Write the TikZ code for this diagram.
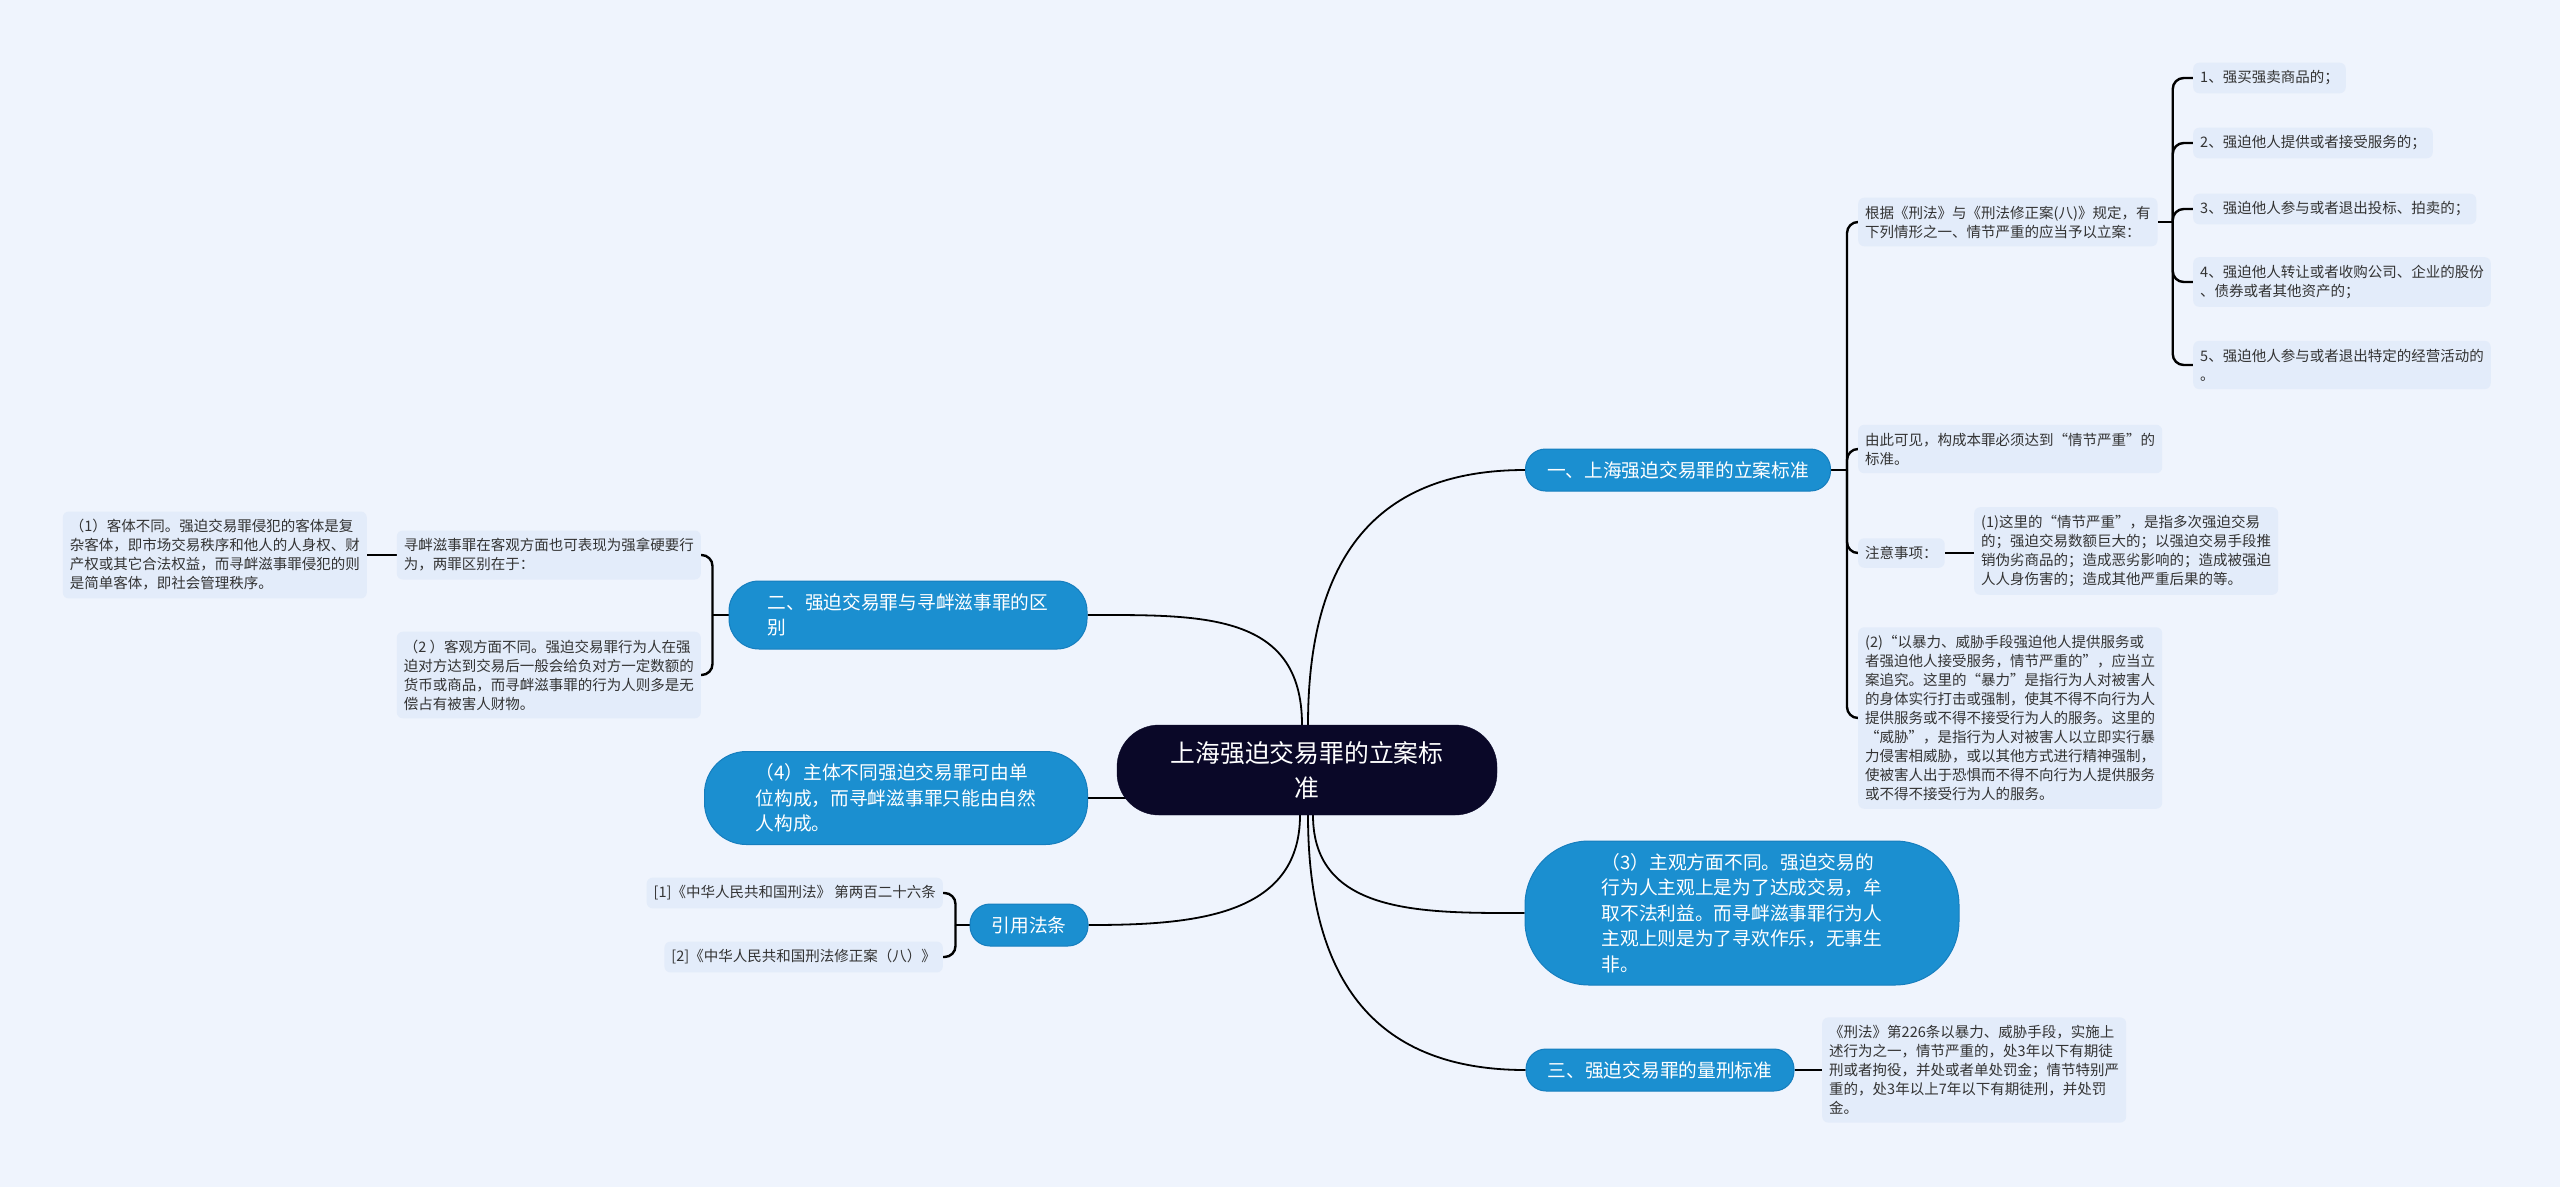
\documentclass[tikz,border=0pt]{standalone}
\usepackage{fontspec}
\setmainfont{Noto Sans CJK SC}
\pgfdeclarelayer{background}
\pgfsetlayers{background,main}
\definecolor{bgcol}{RGB}{239,244,253}
\definecolor{leafcol}{RGB}{227,236,250}
\definecolor{branchcol}{RGB}{27,143,208}
\definecolor{branchline}{RGB}{22,126,190}
\definecolor{rootcol}{RGB}{10,8,40}
\definecolor{leaftext}{RGB}{51,51,51}

\begin{document}
\begin{tikzpicture}[x=1pt,y=-1pt,
  root/.style={fill=rootcol,draw=rootcol,text=white,rounded corners=42pt,minimum width=380pt,minimum height=90pt,align=center,font=\fontsize{24.8}{35}\selectfont},
  branch/.style={fill=branchcol,draw=branchline,line width=1pt,text=white,rounded corners=20pt,minimum height=42pt,align=left,font=\fontsize{18.7}{25.5}\selectfont},
  leaf/.style={fill=leafcol,text=leaftext,rounded corners=6pt,inner xsep=7pt,inner ysep=8pt,align=left,anchor=west,font=\fontsize{14.5}{19}\selectfont},
  link/.style={line width=1.8pt},
  brace/.style={line width=2.4pt,rounded corners=11pt}]
  \useasboundingbox (0,0) rectangle (2560,1187);

  % centre and main topics
  \node[root] (root) at (1307,770) {上海强迫交易罪的立案标\\准};
  \node[branch,minimum width=305pt] (b1) at (1678,470) {一、上海强迫交易罪的立案标准};
  \node[branch,minimum width=358pt,minimum height=68pt,rounded corners=30pt] (b2) at (908,615) {二、强迫交易罪与寻衅滋事罪的区\\别};
  \node[branch,minimum width=383pt,minimum height=93pt,rounded corners=42pt] (b4) at (896,798) {（4）主体不同强迫交易罪可由单\\位构成，而寻衅滋事罪只能由自然\\人构成。};
  \node[branch,minimum width=434pt,minimum height=144pt,rounded corners=64pt] (b3) at (1742,913) {（3）主观方面不同。强迫交易的\\行为人主观上是为了达成交易，牟\\取不法利益。而寻衅滋事罪行为人\\主观上则是为了寻欢作乐，无事生\\非。};
  \node[branch,minimum width=268pt] (b5) at (1660,1070) {三、强迫交易罪的量刑标准};
  \node[branch,minimum width=118pt] (b6) at (1029,925) {引用法条};

  % topic one
  \node[leaf] (l1a) at (1858,222) {根据《刑法》与《刑法修正案(八)》规定，有\\下列情形之一、情节严重的应当予以立案：};
  \foreach \n/\y/\t in {1/78/{1、强买强卖商品的；},
                        2/143/{2、强迫他人提供或者接受服务的；},
                        3/209/{3、强迫他人参与或者退出投标、拍卖的；},
                        4/282/{4、强迫他人转让或者收购公司、企业的股份\\、债券或者其他资产的；},
                        5/365/{5、强迫他人参与或者退出特定的经营活动的\\。}}
    \node[leaf] (it\n) at (2193,\y) {\t};
  \node[leaf] (l1b) at (1858,449) {由此可见，构成本罪必须达到“情节严重”的\\标准。};
  \node[leaf] (l1c) at (1858,553) {注意事项：};
  \node[leaf] (l1e) at (1974,551) {(1)这里的“情节严重”，是指多次强迫交易\\的；强迫交易数额巨大的；以强迫交易手段推\\销伪劣商品的；造成恶劣影响的；造成被强迫\\人人身伤害的；造成其他严重后果的等。};
  \node[leaf] (l1d) at (1858,718) {(2)“以暴力、威胁手段强迫他人提供服务或\\者强迫他人接受服务，情节严重的”，应当立\\案追究。这里的“暴力”是指行为人对被害人\\的身体实行打击或强制，使其不得不向行为人\\提供服务或不得不接受行为人的服务。这里的\\“威胁”，是指行为人对被害人以立即实行暴\\力侵害相威胁，或以其他方式进行精神强制，\\使被害人出于恐惧而不得不向行为人提供服务\\或不得不接受行为人的服务。};

  % topic two
  \node[leaf,anchor=east] (l2a) at (701,555) {寻衅滋事罪在客观方面也可表现为强拿硬要行\\为，两罪区别在于：};
  \node[leaf,anchor=east] (l2c) at (367,555) {（1）客体不同。强迫交易罪侵犯的客体是复\\杂客体，即市场交易秩序和他人的人身权、财\\产权或其它合法权益，而寻衅滋事罪侵犯的则\\是简单客体，即社会管理秩序。};
  \node[leaf,anchor=east] (l2b) at (701,675) {（2 ）客观方面不同。强迫交易罪行为人在强\\迫对方达到交易后一般会给负对方一定数额的\\货币或商品，而寻衅滋事罪的行为人则多是无\\偿占有被害人财物。};

  % topic three and references
  \node[leaf] (l3) at (1822,1070) {《刑法》第226条以暴力、威胁手段，实施上\\述行为之一，情节严重的，处3年以下有期徒\\刑或者拘役，并处或者单处罚金；情节特别严\\重的，处3年以上7年以下有期徒刑，并处罚\\金。};
  \node[leaf,anchor=east] (r1) at (943,893) {[1]《中华人民共和国刑法》 第两百二十六条};
  \node[leaf,anchor=east] (r2) at (943,957) {[2]《中华人民共和国刑法修正案（八）》};

  \coordinate (j1) at ([xshift=16pt]b1.east);
  \coordinate (j2) at ([xshift=15pt]l1a.east);
  \coordinate (j3) at ([xshift=-16pt]b2.west);
  \coordinate (j4) at ([xshift=-14pt]b6.west);

  \begin{pgfonlayer}{background}
    \fill[bgcol] (0,0) rectangle (2560,1187);
    % root to topics
    \draw[link] ([xshift=1pt]root.north) to[out=90,in=180,looseness=1.2] (b1.west);
    \draw[link] ([xshift=-5pt]root.north) to[out=90,in=0,looseness=1.2] (b2.east);
    \draw[link] (b4.east) -- (b4.east -| root.center);
    \draw[link] ([xshift=6pt]root.south) to[out=-90,in=180,looseness=1.1] (b3.west);
    \draw[link] ([xshift=1pt]root.south) to[out=-90,in=180,looseness=1.2] (b5.west);
    \draw[link] ([xshift=-7pt]root.south) to[out=-90,in=0,looseness=1.1] (b6.east);
    % brackets
    \draw[brace] (b1.east) -- (j1);
    \foreach \c in {l1a,l1b,l1c,l1d} \draw[brace] (j1) |- (\c.west);
    \draw[brace] (l1a.east) -- (j2);
    \foreach \n in {1,...,5} \draw[brace] (j2) |- (it\n.west);
    \draw[brace] (l1c.east) -- (l1c.east -| l1e.west);
    \draw[brace] (b2.west) -- (j3);
    \foreach \c in {l2a,l2b} \draw[brace] (j3) |- (\c.east);
    \draw[brace] (l2a.west) -- (l2a.west -| l2c.east);
    \draw[brace] (b6.west) -- (j4);
    \foreach \c in {r1,r2} \draw[brace] (j4) |- (\c.east);
    \draw[brace] (b5.east) -- (b5.east -| l3.west);
  \end{pgfonlayer}
\end{tikzpicture}
\end{document}
